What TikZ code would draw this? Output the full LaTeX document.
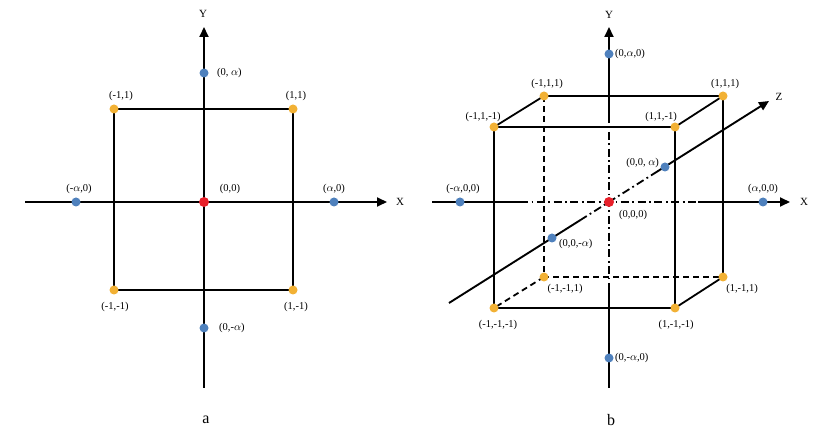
\documentclass[tikz,border=0pt]{standalone}
\usepackage{fontspec}
\setmainfont{Liberation Serif}
\usetikzlibrary{arrows.meta}
\definecolor{cblue}{HTML}{4F81BD}
\definecolor{corange}{HTML}{F2B134}
\definecolor{cred}{HTML}{E8202A}
\tikzset{
  ax/.style={line width=1.9pt},
  axarrow/.style={line width=1.9pt,-{Triangle[length=10pt,width=9pt]}},
  edge/.style={line width=1.8pt},
  thinedge/.style={line width=1.4pt},
  dd/.style={line width=1.8pt,dash pattern=on 8pt off 3.5pt on 1.8pt off 3.5pt},
  dsh/.style={line width=1.8pt,dash pattern=on 6pt off 4pt},
  bdot/.style={circle,fill=cblue,inner sep=0pt,minimum size=9pt},
  odot/.style={circle,fill=corange,inner sep=0pt,minimum size=9pt},
  rdot/.style={circle,fill=cred,inner sep=0pt,minimum size=10pt},
  lab/.style={font=\fontsize{10.5}{12}\selectfont,inner sep=1pt},
  axlab/.style={font=\fontsize{11}{12}\selectfont,inner sep=1pt},
  captionlab/.style={font=\fontsize{16}{18}\selectfont,inner sep=0pt}
}
\begin{document}
\begin{tikzpicture}[x=1pt,y=-1pt]
\useasboundingbox (0,0) rectangle (820,438);
\fill[white] (0,0) rectangle (820,438);
% ================= panel a =================
\coordinate (aO) at (204,202);
\coordinate (aYt) at (204,27);
\coordinate (aYb) at (204,388);
\coordinate (aXl) at (25,202);
\coordinate (aXr) at (387,202);
\coordinate (aA) at (114,109);
\coordinate (aB) at (293,109);
\coordinate (aC) at (293,290);
\coordinate (aD) at (114,290);
\draw[edge] (aD) -- (aA) -- (aB);
\draw[thinedge] (aB) -- (aC);
\draw[edge] (aC) -- (aD);
\draw[axarrow] (aYb) -- (aYt);
\draw[axarrow] (aXl) -- (aXr);
\node[axlab] (aYlab) at (203,14) {Y};
\node[axlab] (aXlab) at (400,202) {X};
\node[bdot] (aP1) at (204,73) {};
\node[bdot] (aP2) at (204,328) {};
\node[bdot] (aP3) at (76,202) {};
\node[bdot] (aP4) at (334,202) {};
\node[odot] (aQA) at (aA) {};
\node[odot] (aQB) at (aB) {};
\node[odot] (aQC) at (aC) {};
\node[odot] (aQD) at (aD) {};
\node[rdot] (aQO) at (aO) {};
\node[lab,anchor=west] (aL1) at (216,73) {(0, $\alpha$)};
\node[lab,anchor=west] (aL2) at (218,328) {(0,-$\alpha$)};
\node[lab] (aL3) at (79,189) {(-$\alpha$,0)};
\node[lab] (aL4) at (334,189) {($\alpha$,0)};
\node[lab] (aL5) at (230,189) {(0,0)};
\node[lab] (aL6) at (121,96) {(-1,1)};
\node[lab] (aL7) at (296,96) {(1,1)};
\node[lab] (aL8) at (115,307) {(-1,-1)};
\node[lab] (aL9) at (296,307) {(1,-1)};
\node[captionlab] (acap) at (206,420) {a};
% ================= panel b =================
\coordinate (bO) at (609,202);
% cube
\coordinate (f1) at (494,127);  % (-1,1,-1)
\coordinate (f2) at (675,127);  % (1,1,-1)
\coordinate (f3) at (675,308);  % (1,-1,-1)
\coordinate (f4) at (494,308);  % (-1,-1,-1)
\coordinate (k1) at (544,96);   % (-1,1,1)
\coordinate (k2) at (723,96);   % (1,1,1)
\coordinate (k3) at (723,277);  % (1,-1,1)
\coordinate (k4) at (544,277);  % (-1,-1,1)
\draw[edge] (f1) -- (f2) -- (f3) -- (f4) -- cycle;
\draw[edge] (f1) -- (k1) -- (k2) -- (f2);
\draw[edge] (k2) -- (k3) -- (f3);
\draw[dsh] (k1) -- (k4) -- (k3);
\draw[dsh] (k4) -- (f4);
% Y axis
\coordinate (bYt) at (609,27);
\coordinate (bY1) at (609,115);
\coordinate (bY2) at (609,288);
\coordinate (bYb) at (609,388);
\draw[axarrow] (bY1) -- (bYt);
\draw[dd] (bY1) -- (bY2);
\draw[ax] (bY2) -- (bYb);
% X axis
\coordinate (bXl) at (432,202);
\coordinate (bX1) at (520,202);
\coordinate (bX2) at (698,202);
\coordinate (bXr) at (790,202);
\draw[ax] (bXl) -- (bX1);
\draw[dd] (bX1) -- (bX2);
\draw[axarrow] (bX2) -- (bXr);
% Z axis
\coordinate (bZl) at (449,303);
\coordinate (bZ1) at (580,220.3);
\coordinate (bZ2) at (653,174.2);
\coordinate (bZr) at (769,101);
\draw[ax] (bZl) -- (bZ1);
\draw[dd] (bZ1) -- (bZ2);
\draw[axarrow] (bZ2) -- (bZr);
\node[axlab] (bYlab) at (609,15) {Y};
\node[axlab] (bXlab) at (804,202) {X};
\node[axlab] (bZlab) at (779,97) {Z};
% dots
\node[bdot] (bP1) at (609,54) {};
\node[bdot] (bP2) at (609,358) {};
\node[bdot] (bP3) at (460,202) {};
\node[bdot] (bP4) at (763,202) {};
\node[bdot] (bP5) at (665,167) {};
\node[bdot] (bP6) at (552,238) {};
\node[odot] (bQ1) at (f1) {};
\node[odot] (bQ2) at (f2) {};
\node[odot] (bQ3) at (f3) {};
\node[odot] (bQ4) at (f4) {};
\node[odot] (bQ5) at (k1) {};
\node[odot] (bQ6) at (k2) {};
\node[odot] (bQ7) at (k3) {};
\node[odot] (bQ8) at (k4) {};
\node[rdot] (bQO) at (bO) {};
% labels
\node[lab,anchor=west] (bL1) at (614,54) {(0,$\alpha$,0)};
\node[lab,anchor=west] (bL2) at (614,358) {(0,-$\alpha$,0)};
\node[lab] (bL3) at (463,189) {(-$\alpha$,0,0)};
\node[lab] (bL4) at (763,189) {($\alpha$,0,0)};
\node[lab] (bL5) at (633,215) {(0,0,0)};
\node[lab,anchor=east] (bL6) at (660,163) {(0,0, $\alpha$)};
\node[lab,anchor=west] (bL7) at (558,244) {(0,0,-$\alpha$)};
\node[lab] (bL8) at (547,84) {(-1,1,1)};
\node[lab] (bL9) at (725,84) {(1,1,1)};
\node[lab] (bL10) at (483,117) {(-1,1,-1)};
\node[lab] (bL11) at (661,117) {(1,1,-1)};
\node[lab] (bL12) at (565,289) {(-1,-1,1)};
\node[lab] (bL13) at (742,289) {(1,-1,1)};
\node[lab] (bL14) at (498,325) {(-1,-1,-1)};
\node[lab] (bL15) at (676,325) {(1,-1,-1)};
\node[captionlab] (bcap) at (611,420) {b};
\end{tikzpicture}
\end{document}
